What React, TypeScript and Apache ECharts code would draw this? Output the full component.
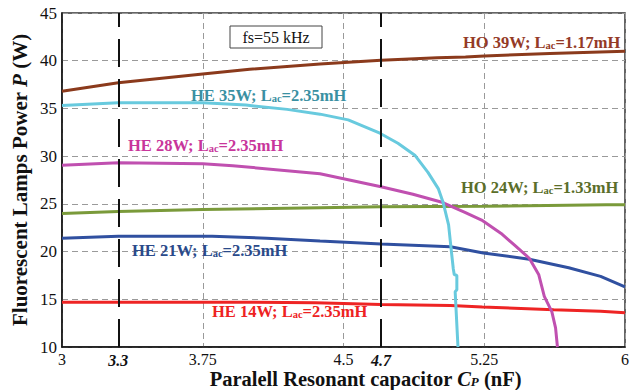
import React, { useEffect, useRef } from "react";
import * as echarts from "echarts";

const FONT = "'Liberation Serif', 'Times New Roman', serif";

const xTickLabels = [3, 3.3, 3.75, 4.5, 4.7, 5.25, 6];
const markedCaps = [3.3, 4.7];

const capHO39 = [3, 3.3, 3.75, 4.0, 4.375, 4.7, 5.0, 5.15, 5.25, 5.6, 6];
const pHO39 = [36.8, 37.7, 38.6, 39.1, 39.65, 40.05, 40.3, 40.4, 40.5, 40.75, 41.0];

const capHE35 = [3, 3.3, 3.75, 3.98, 4.2, 4.375, 4.525, 4.694, 4.79, 4.88, 4.95, 5.005, 5.03, 5.06, 5.075, 5.085, 5.09, 5.104, 5.104, 5.095, 5.11];
const pHE35 = [35.3, 35.6, 35.6, 35.35, 34.9, 34.4, 33.8, 32.4, 31.35, 30.1, 28.3, 26.6, 25.2, 22.8, 20.0, 18.2, 17.6, 17.5, 16.0, 15.8, 10];

const capHE28 = [3, 3.3, 3.75, 3.91, 4.375, 4.7, 4.87, 5.02, 5.147, 5.236, 5.34, 5.41, 5.49, 5.54, 5.57, 5.61, 5.63, 5.64];
const pHE28 = [29.05, 29.3, 29.2, 29.0, 28.15, 26.8, 26.0, 25.2, 24.1, 23.3, 21.9, 20.7, 19.3, 17.6, 15.3, 13.7, 12.0, 10];

const capHO24 = [3, 3.3, 3.75, 4.375, 4.7, 5.25, 5.9, 6];
const pHO24 = [24.0, 24.2, 24.4, 24.6, 24.7, 24.75, 24.9, 24.9];

const capHE21 = [3, 3.3, 3.8, 4.09, 4.375, 4.7, 5.07, 5.245, 5.49, 5.7, 5.87, 6];
const pHE21 = [21.4, 21.6, 21.6, 21.4, 21.1, 20.8, 20.5, 19.85, 19.2, 18.3, 17.4, 16.3];

const capHE14 = [3, 3.75, 4.35, 4.7, 5.07, 5.24, 5.62, 5.87, 6];
const pHE14 = [14.7, 14.7, 14.65, 14.45, 14.35, 14.2, 13.9, 13.75, 13.6];

const zip = (xs: number[], ys: number[]) => xs.map((x, i) => [x, ys[i]]);

function curveLabel(x: number, y: number, name: string, val: string, color: string) {
  return {
    type: "text",
    x,
    y,
    z: 100,
    style: {
      text: `{a|${name}; L}{s|ac}{a|=${val}}`,
      verticalAlign: "middle",
      rich: {
        a: { fontFamily: FONT, fontSize: 16.5, fontWeight: "bold", fill: color, color, lineHeight: 18 },
        s: { fontFamily: FONT, fontSize: 10.5, fontWeight: "bold", fill: color, color, lineHeight: 9, verticalAlign: "bottom" },
      },
    },
  };
}

export default function App() {
  const ref = useRef<HTMLDivElement>(null);
  useEffect(() => {
    if (!ref.current) return;
    const chart = echarts.init(ref.current, undefined, { renderer: "svg" });
    const line = (data: number[][], color: string) => ({
      type: "line",
      data,
      showSymbol: false,
      symbol: "none",
      lineStyle: { color, width: 3 },
      animation: false,
    });
    chart.setOption({
      animation: false,
      grid: {
        left: 62,
        right: 10,
        top: 13,
        bottom: 43,
        show: true,
        borderColor: "#333",
        borderWidth: 1.5,
        containLabel: false,
        outerBoundsMode: "none",
      },
      xAxis: {
        type: "value",
        min: 3,
        max: 6,
        interval: 0.75,
        axisLine: { show: true, lineStyle: { color: "#111", width: 1.5 } },
        axisTick: { show: false },
        splitLine: { show: true, lineStyle: { color: "#9a9a9a", type: [6, 4], width: 1 } },
        axisLabel: {
          customValues: xTickLabels,
          margin: 4,
          formatter: (v: number) => (markedCaps.includes(v) ? `{bi|${v}}` : `{n|${v}}`),
          rich: {
            n: { fontFamily: FONT, fontSize: 16, color: "#111", lineHeight: 16 },
            bi: { fontFamily: FONT, fontSize: 16, color: "#111", fontStyle: "italic", fontWeight: "bold", lineHeight: 16, padding: [3, 0, 0, 0] },
          },
        },
        name: "{b|Paralell Resonant capacitor }{i|C}{is|P}{b| (nF)}",
        nameLocation: "middle",
        nameGap: 23,
        nameMoveOverlap: false,
        nameTextStyle: {
          padding: [0, 0, 0, 44],
          rich: {
            b: { fontFamily: FONT, fontSize: 20.5, fontWeight: "bold", color: "#111", lineHeight: 18 },
            i: { fontFamily: FONT, fontSize: 20.5, fontWeight: "bold", fontStyle: "italic", color: "#111", lineHeight: 18 },
            is: { fontFamily: FONT, fontSize: 13, fontWeight: "bold", fontStyle: "italic", color: "#111", verticalAlign: "bottom", lineHeight: 11 },
          },
        },
      },
      yAxis: {
        type: "value",
        min: 10,
        max: 45,
        interval: 5,
        axisLine: { show: true, lineStyle: { color: "#111", width: 1.5 } },
        axisTick: { show: false },
        splitLine: { show: true, lineStyle: { color: "#9a9a9a", type: [6, 4], width: 1 } },
        axisLabel: { fontFamily: FONT, fontSize: 17, color: "#111", margin: 5 },
        name: "{b|Fluorescent Lamps Power }{i|P}{b| (W)}",
        nameLocation: "middle",
        nameGap: 32,
        nameMoveOverlap: false,
        nameTextStyle: {
          rich: {
            b: { fontFamily: FONT, fontSize: 21, fontWeight: "bold", color: "#111" },
            i: { fontFamily: FONT, fontSize: 21, fontWeight: "bold", fontStyle: "italic", color: "#111" },
          },
        },
      },
      series: [
        {
          ...line(zip(capHO39, pHO39), "#8b3a1c"),
          markLine: {
            silent: true,
            symbol: "none",
            label: { show: false },
            lineStyle: { color: "#111", width: 2, type: [28, 12] },
            data: markedCaps.map((v) => ({ xAxis: v })),
          },
        },
        line(zip(capHO24, pHO24), "#7a9a3a"),
        line(zip(capHE21, pHE21), "#3050a0"),
        line(zip(capHE14, pHE14), "#ee2424"),
        line(zip(capHE28, pHE28), "#c050b0"),
        line(zip(capHE35, pHE35), "#68cade"),
      ],
      graphic: [
        { type: "rect", shape: { x: 230, y: 26, width: 92, height: 22 }, style: { fill: "#fff", stroke: "#444", lineWidth: 1 }, z: 100 },
        { type: "text", x: 276, y: 37, z: 101, style: { text: "fs=55 kHz", fontFamily: FONT, fontSize: 16, fill: "#111", align: "center", verticalAlign: "middle" } },
        curveLabel(463, 42, "HO 39W", "1.17mH", "#943a26"),
        curveLabel(191, 95, "HE 35W", "2.35mH", "#3a90a2"),
        curveLabel(128, 145, "HE 28W", "2.35mH", "#c8359b"),
        curveLabel(461, 187, "HO 24W", "1.33mH", "#5b6e2a"),
        curveLabel(132, 250, "HE 21W", "2.35mH", "#2a4a8a"),
        curveLabel(212, 311, "HE 14W", "2.35mH", "#ee2222"),
      ],
    });
    return () => chart.dispose();
  }, []);
  return <div ref={ref} style={{ width: 635, height: 390, position: "absolute", left: 0, top: 0 }} />;
}
